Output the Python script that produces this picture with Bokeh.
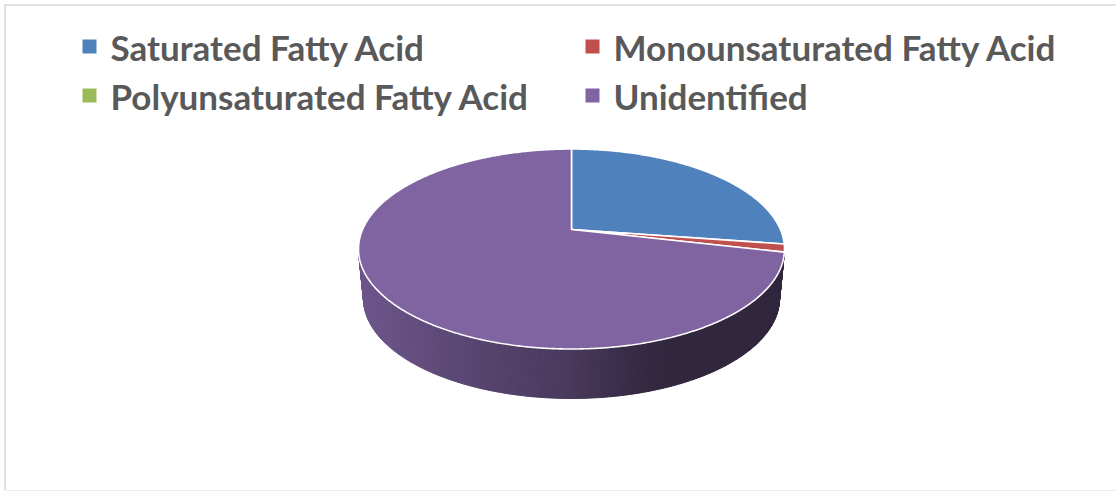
import numpy as np
from bokeh.plotting import figure
from bokeh.models import Range1d
from bokeh.core.properties import value
from bokeh.embed import file_html
from bokeh.resources import INLINE

# Fatty acid composition (percent of total)
categories = ["Saturated Fatty Acid", "Monounsaturated Fatty Acid",
              "Polyunsaturated Fatty Acid", "Unidentified"]
shares = [24.2, 1.3, 0.0, 74.5]
colors = ["#4F81BD", "#C0504D", "#9BBB59", "#8064A2"]

# legend order (two columns, two rows)
legend_order = [0, 1, 2, 3]

W, H = 1116, 491
p = figure(width=W, height=H, output_backend="svg", toolbar_location=None,
           x_range=Range1d(0, W), y_range=Range1d(H, 0), min_border=0,
           background_fill_color="white", border_fill_color="white")
p.axis.visible = False
p.grid.visible = False
p.outline_line_color = None

# frame
p.segment(x0=[4, 4.5, 4], y0=[4.5, 4, 490], x1=[W, 4.5, W], y1=[4.5, H, 490],
          line_color=["#d9d9d9", "#d9d9d9", "#eeeeee"], line_width=[1.6, 1.6, 1.2])

# 3-D pie geometry (screen pixels)
cx, cy, rx, ry = 571.0, 248.5, 213.0, 100.0
bx, by, brx, bry = 571.0, 298.0, 208.0, 100.0
apex = (571.0, 229.0)


def top_pt(t):
    return cx + rx * np.sin(t), cy - ry * np.cos(t)


def bot_pt(t):
    return bx + brx * np.sin(t), by - bry * np.cos(t)


def hex_rgb(h):
    h = h.lstrip("#")
    return np.array([int(h[i:i + 2], 16) for i in (0, 2, 4)], dtype=float)


def shade(h, f):
    c = np.clip(hex_rgb(h) * f, 0, 255).astype(int)
    return "#%02x%02x%02x" % tuple(c)


total = float(sum(shares))
bounds = np.concatenate([[0.0], np.cumsum(shares)]) / total * 2 * np.pi

# side walls: front half of the rim, split into thin strips for shading
sx, sy, sc = [], [], []
for i, col in enumerate(colors):
    a0, a1 = max(bounds[i], np.pi / 2), min(bounds[i + 1], 3 * np.pi / 2)
    if a1 <= a0:
        continue
    n = max(2, int((a1 - a0) / np.pi * 260))
    ts = np.linspace(a0, a1, n + 1)
    for ta, tb in zip(ts[:-1], ts[1:]):
        xa, ya = top_pt(ta)
        xb, yb = top_pt(tb)
        xc, yc = bot_pt(tb)
        xd, yd = bot_pt(ta)
        sx.append([xa, xb, xc, xd])
        sy.append([ya, yb, yc, yd])
        u = np.sin(0.5 * (ta + tb))
        f = np.interp(u, [-1, -0.5, 0, 0.3, 0.5, 1],
                      [0.86, 0.70, 0.57, 0.42, 0.38, 0.38])
        sc.append(shade(col, f))
p.patches(sx, sy, fill_color=sc, line_color=sc, line_width=1)

# top face slices
px, py, pc = [], [], []
for i, col in enumerate(colors):
    a0, a1 = bounds[i], bounds[i + 1]
    if a1 - a0 <= 0:
        continue
    ts = np.linspace(a0, a1, max(3, int((a1 - a0) * 120)))
    xs, ys = top_pt(ts)
    px.append([apex[0]] + list(xs))
    py.append([apex[1]] + list(ys))
    pc.append(col)
p.patches(px, py, fill_color=pc, line_color="white", line_width=1.6)

# legend
sq_x = [89, 592, 89, 592]
sq_y = [46, 46, 95, 95]
p.rect(x=sq_x, y=sq_y, width=14, height=14,
       fill_color=[colors[k] for k in legend_order], line_color=None)
p.text(x=[x + 21 for x in sq_x], y=[y for y in sq_y],
       text=[categories[k] for k in legend_order],
       text_font=value("Lato"), text_font_style="bold", text_font_size="35px",
       text_color="#595959", text_baseline="middle", text_align="left")

open("out.html", "w").write(file_html(p, INLINE))
